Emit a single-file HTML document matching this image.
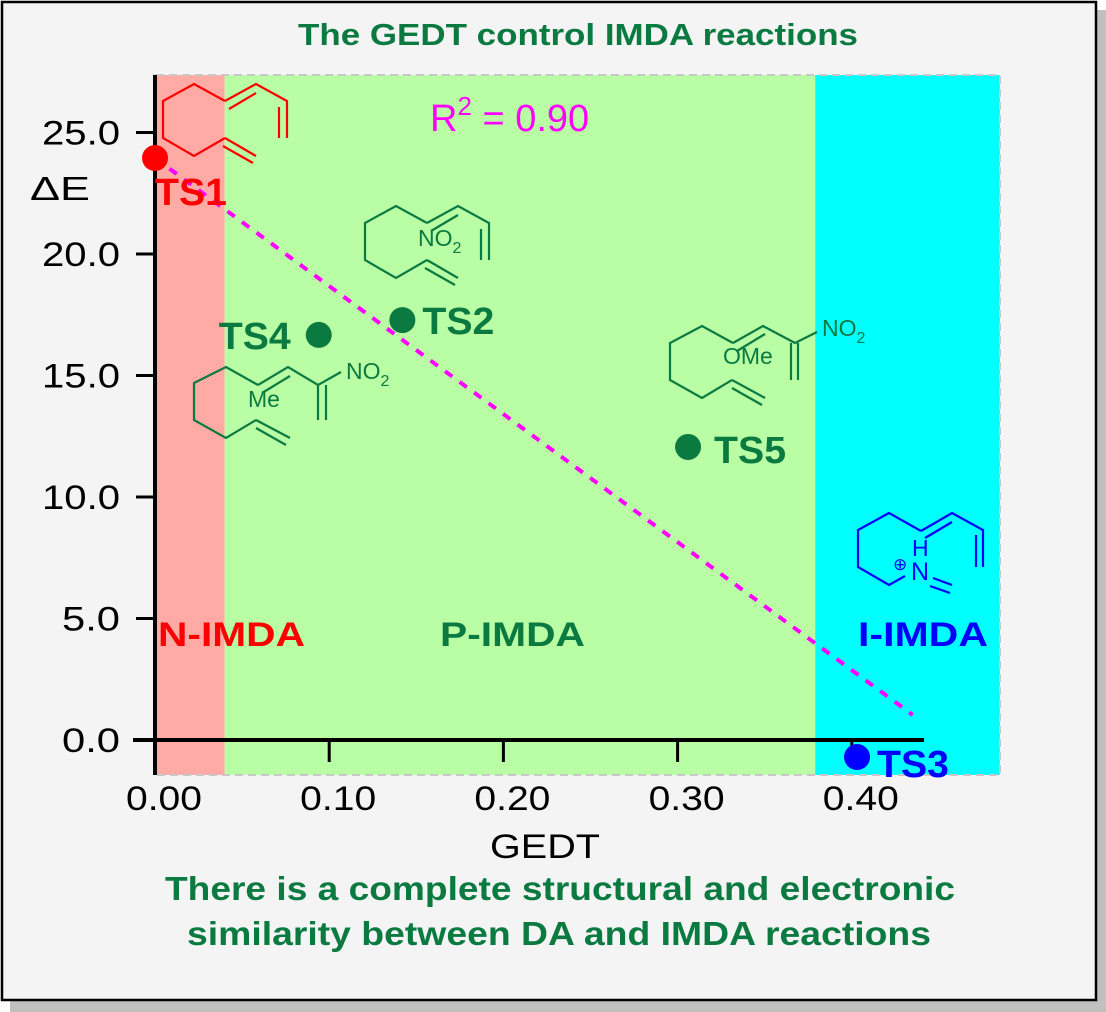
<!DOCTYPE html>
<html><head><meta charset="utf-8"><style>
html,body{margin:0;padding:0;background:#fff;}
svg{display:block;font-family:"Liberation Sans",Arial,sans-serif;}
</style></head><body>
<svg id="chart" width="1106" height="1012" viewBox="0 0 1106 1012">
<rect x="10" y="10" width="1096" height="1002" fill="#c0c0c0"/>
<rect x="2" y="2" width="1094" height="998" fill="#f4f4f4" stroke="#000" stroke-width="2.5"/>
<text x="298" y="45" textLength="560" lengthAdjust="spacingAndGlyphs" font-size="31" font-weight="bold" fill="#0a7a40">The GEDT control IMDA reactions</text>
<g id="regions"></g>
<rect x="156" y="75" width="844" height="700" fill="none" stroke="#c8c8c8" stroke-width="2" stroke-dasharray="8,5"/>
<g id="mols" fill="none" stroke-width="2.2"></g>
<g id="axes"></g>
<g id="marks"></g>
<text x="430" y="131" font-size="38" fill="#ff00ff">R<tspan font-size="26" dy="-16">2</tspan><tspan dy="16"> = 0.90</tspan></text>
<text x="158" y="646" textLength="147" lengthAdjust="spacingAndGlyphs" font-size="34" font-weight="bold" fill="#ff0000">N-IMDA</text>
<text x="440" y="646" textLength="145" lengthAdjust="spacingAndGlyphs" font-size="34" font-weight="bold" fill="#0a7a40">P-IMDA</text>
<text x="858" y="646" textLength="130" lengthAdjust="spacingAndGlyphs" font-size="34" font-weight="bold" fill="#0000ff">I-IMDA</text>
<text x="30" y="200" textLength="60" lengthAdjust="spacingAndGlyphs" font-size="33" fill="#000">ΔE</text>
<text x="490" y="858" textLength="110" lengthAdjust="spacingAndGlyphs" font-size="34" fill="#000">GEDT</text>
<text x="165" y="900" textLength="790" lengthAdjust="spacingAndGlyphs" font-size="33" font-weight="bold" fill="#0a7a40">There is a complete structural and electronic</text>
<text x="187" y="945" textLength="744" lengthAdjust="spacingAndGlyphs" font-size="33" font-weight="bold" fill="#0a7a40">similarity between DA and IMDA reactions</text>
</svg>
<script>
const names=["TS1","TS2","TS3","TS4","TS5"];
const gedt=[0.0,0.142,0.403,0.094,0.306];
const energy=[23.95,17.28,-0.7,16.67,12.06];
const xTicks=[0.0,0.1,0.2,0.3,0.4];
const xTickLabels=["0.00","0.10","0.20","0.30","0.40"];
const yTicks=[0,5,10,15,20,25];
const yTickLabels=["0.0","5.0","10.0","15.0","20.0","25.0"];
const regionBounds=[0,0.04,0.379,0.485];
const fitLine=[[0,23.95],[0.435,1.03]];

const NS="http://www.w3.org/2000/svg";
const X=v=>155+v*1742;
const Y=v=>740-v*24.3;
function mk(tag,attrs,parent){const e=document.createElementNS(NS,tag);for(const k in attrs)e.setAttribute(k,attrs[k]);parent.appendChild(e);return e;}

const reg=document.getElementById('regions');
const regColors=["#ffaaa5","#b9fea5","#00ffff"];
const regNames=["n-imda-region","p-imda-region","i-imda-region"];
for(let i=0;i<3;i++){
  const r=mk('rect',{x:X(regionBounds[i]),y:75,width:X(regionBounds[i+1])-X(regionBounds[i]),height:700,fill:regColors[i]},reg);
  
  
}

const ax=document.getElementById('axes');
let l=mk('line',{x1:155,y1:75,x2:155,y2:775,stroke:"#000","stroke-width":4},ax);


l=mk('line',{x1:133,y1:740,x2:924,y2:740,stroke:"#000","stroke-width":4},ax);


yTicks.forEach((v,i)=>{
  const t=mk('line',{x1:136,y1:Y(v),x2:155,y2:Y(v),stroke:"#000","stroke-width":3},ax);
  
  
  const s=yTickLabels[i];
  const tx=mk('text',{x:120-(s.length===4?78:58),y:Y(v)+12,textLength:(s.length===4?78:58),lengthAdjust:"spacingAndGlyphs","font-size":34,fill:"#000"},ax);
  tx.textContent=s;
  
  
});
xTicks.forEach((v,i)=>{
  if(i>0){const t=mk('line',{x1:X(v),y1:740,x2:X(v),y2:762,stroke:"#000","stroke-width":3},ax);
  
  }
  const tx=mk('text',{x:X(v)+9-38,y:810,textLength:76,lengthAdjust:"spacingAndGlyphs","font-size":34,fill:"#000"},ax);
  tx.textContent=xTickLabels[i];
  
  
});

const mg=document.getElementById('marks');
const fl=mk('line',{x1:X(fitLine[0][0]),y1:Y(fitLine[0][1]),x2:X(fitLine[1][0]),y2:Y(fitLine[1][1]),stroke:"#ff00ff","stroke-width":4,"stroke-dasharray":"9,9"},mg);


const pc={TS1:"#ff0000",TS2:"#0a7a40",TS3:"#0000ff",TS4:"#0a7a40",TS5:"#0a7a40"};
const lblOff={TS1:[0,47,"start"],TS2:[20,14,"start"],TS3:[20,20,"start"],TS4:[-100,14,"start"],TS5:[26,16,"start"]};
names.forEach((n,i)=>{
  const c=mk('circle',{cx:X(gedt[i]),cy:Y(energy[i]),r:13,fill:pc[n]},mg);
  
  
  const o=lblOff[n];
  const t=mk('text',{x:X(gedt[i])+o[0],y:Y(energy[i])+o[1],textLength:72,lengthAdjust:"spacingAndGlyphs","font-size":38,"font-weight":"bold",fill:pc[n]},mg);
  t.textContent=n;
  
  
});

const mol=document.getElementById('mols');
function molecule(ox,oy,col,name){
  const g=mk('g',{transform:`translate(${ox},${oy})`,stroke:col},mol);
  
  
  mk('polyline',{points:"62,0 31,-17 0,0 0,37 31,55 62,37"},g);
  mk('line',{x1:62,y1:37,x2:93,y2:55},g);
  mk('line',{x1:60,y1:45,x2:90,y2:62},g);
  mk('polyline',{points:"62,0 93,-17 124,0 124,37"},g);
  mk('line',{x1:66,y1:8,x2:93,y2:-8},g);
  mk('line',{x1:116,y1:6,x2:116,y2:37},g);
}
molecule(163,101,"#ff0000","ts1-structure");
molecule(365,223,"#0a7a40","ts2-structure");
function mtext(x,y,s,col,sub,name,fs){
  const t=mk('text',{x:x,y:y,"font-size":fs||23,fill:col,stroke:"none"},mol);
  t.textContent=s;
  if(sub){const ts=mk('tspan',{"font-size":16,dy:7},t);ts.textContent=sub;}
  
  
}
mtext(418,246,"NO","#0a7a40","2","ts2-no2-label");
(function(){
  const g=mk('g',{stroke:"#0a7a40"},mol);
  
  
  mk('polyline',{points:"258,385 226,367 194,383 194,420 226,438 256,420"},g);
  mk('line',{x1:256,y1:420,x2:290,y2:438},g);
  mk('line',{x1:256,y1:428,x2:286,y2:445},g);
  mk('polyline',{points:"258,385 288,367 318,385 341,372"},g);
  mk('line',{x1:262,y1:393,x2:290,y2:376},g);
  mk('line',{x1:318,y1:385,x2:318,y2:420},g);
  mk('line',{x1:326,y1:385,x2:326,y2:420},g);
})();
mtext(346,379,"NO","#0a7a40","2","ts4-no2-label");
mtext(248,407,"Me","#0a7a40",null,"ts4-me-label");
(function(){
  const g=mk('g',{stroke:"#0a7a40"},mol);
  
  
  mk('polyline',{points:"733,343 702,326 670,343 670,380 702,398 732,380"},g);
  mk('line',{x1:732,y1:380,x2:765,y2:398},g);
  mk('line',{x1:732,y1:388,x2:762,y2:405},g);
  mk('polyline',{points:"733,343 763,326 795,343 817,332"},g);
  mk('line',{x1:737,y1:351,x2:765,y2:334},g);
  mk('line',{x1:791,y1:343,x2:791,y2:380},g);
  mk('line',{x1:798,y1:343,x2:798,y2:380},g);
})();
mtext(822,336,"NO","#0a7a40","2","ts5-no2-label");
mtext(723,364,"OMe","#0a7a40",null,"ts5-ome-label");
(function(){
  const g=mk('g',{stroke:"#0000ff"},mol);
  
  
  mk('polyline',{points:"921,531 889,513 858,530 858,567 889,585 905,576"},g);
  mk('line',{x1:933,y1:578,x2:952,y2:585},g);
  mk('line',{x1:930,y1:586,x2:950,y2:593},g);
  mk('polyline',{points:"921,531 952,513 983,530 983,567"},g);
  mk('line',{x1:925,y1:538,x2:952,y2:522},g);
  mk('line',{x1:976,y1:535,x2:976,y2:567},g);
})();
mtext(912,556,"H","#0000ff",null,"ts3-h-label");
mtext(911,580,"N","#0000ff",null,"ts3-n-label",25);
mtext(893,570,"⊕","#0000ff",null,"ts3-charge-label",17);
</script>
</body></html>
